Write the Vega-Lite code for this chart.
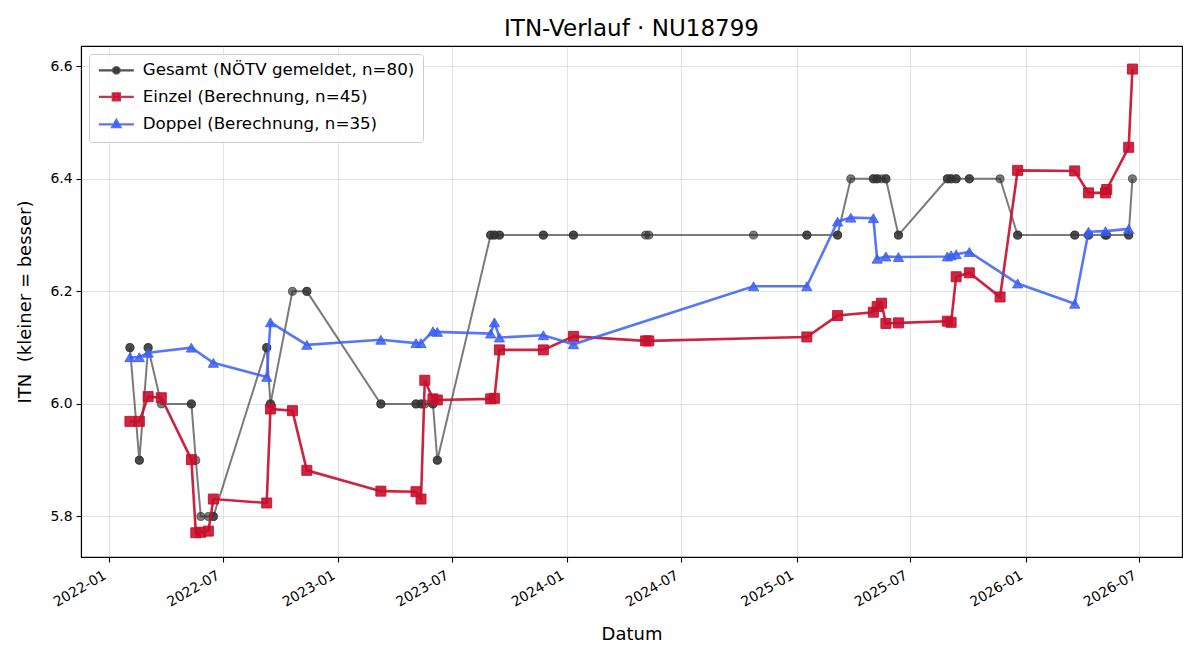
{
  "$schema": "https://vega.github.io/schema/vega-lite/v6.json",
  "width": 1101,
  "height": 511,
  "autosize": {"type": "none"},
  "padding": {"left": 81, "top": 46, "right": 18, "bottom": 103},
  "background": "white",
  "title": {
    "text": "ITN-Verlauf · NU18799",
    "font": "DejaVu Sans",
    "fontSize": 23,
    "fontWeight": "normal",
    "color": "black",
    "anchor": "middle",
    "baseline": "alphabetic",
    "offset": -13
  },
  "config": {
    "font": "DejaVu Sans",
    "view": {"stroke": "black", "strokeWidth": 1.1},
    "axis": {
      "domainColor": "black",
      "domainWidth": 1.1,
      "tickColor": "black",
      "tickWidth": 1.1,
      "tickSize": 5,
      "labelColor": "black",
      "labelFont": "DejaVu Sans",
      "labelFontSize": 13.9,
      "labelPadding": 4,
      "titleFont": "DejaVu Sans",
      "titleFontSize": 18,
      "titleFontWeight": "normal",
      "titleColor": "black",
      "gridColor": "#b0b0b0",
      "gridOpacity": 0.35,
      "gridWidth": 1.1
    }
  },
  "data": {
    "values": [
      {"d": "2022-02-03", "t": "E", "v": 5.969, "g": 6.1},
      {"d": "2022-02-03", "t": "D", "v": 6.083, "g": 6.1},
      {"d": "2022-02-18", "t": "E", "v": 5.969, "g": 5.9},
      {"d": "2022-02-18", "t": "D", "v": 6.083, "g": 5.9},
      {"d": "2022-03-04", "t": "E", "v": 6.013, "g": 6.1},
      {"d": "2022-03-04", "t": "D", "v": 6.091, "g": 6.1},
      {"d": "2022-03-25", "t": "E", "v": 6.011, "g": 6.0},
      {"d": "2022-05-12", "t": "E", "v": 5.901, "g": 6.0},
      {"d": "2022-05-12", "t": "D", "v": 6.100, "g": 6.0},
      {"d": "2022-05-19", "t": "E", "v": 5.771, "g": 5.9},
      {"d": "2022-05-27", "t": "E", "v": 5.772, "g": 5.8},
      {"d": "2022-06-08", "t": "E", "v": 5.774, "g": 5.8},
      {"d": "2022-06-16", "t": "E", "v": 5.831, "g": 5.8},
      {"d": "2022-06-16", "t": "D", "v": 6.073, "g": 5.8},
      {"d": "2022-09-09", "t": "E", "v": 5.824, "g": 6.1},
      {"d": "2022-09-09", "t": "D", "v": 6.048, "g": 6.1},
      {"d": "2022-09-15", "t": "E", "v": 5.991, "g": 6.0},
      {"d": "2022-09-15", "t": "D", "v": 6.145, "g": 6.0},
      {"d": "2022-10-20", "t": "E", "v": 5.988, "g": 6.2},
      {"d": "2022-11-12", "t": "E", "v": 5.882, "g": 6.2},
      {"d": "2022-11-12", "t": "D", "v": 6.105, "g": 6.2},
      {"d": "2023-03-10", "t": "E", "v": 5.845, "g": 6.0},
      {"d": "2023-03-10", "t": "D", "v": 6.114, "g": 6.0},
      {"d": "2023-05-05", "t": "E", "v": 5.844, "g": 6.0},
      {"d": "2023-05-05", "t": "D", "v": 6.108, "g": 6.0},
      {"d": "2023-05-13", "t": "E", "v": 5.831, "g": 6.0},
      {"d": "2023-05-13", "t": "D", "v": 6.108, "g": 6.0},
      {"d": "2023-05-19", "t": "E", "v": 6.042, "g": 6.0},
      {"d": "2023-06-01", "t": "E", "v": 6.009, "g": 6.0},
      {"d": "2023-06-01", "t": "D", "v": 6.129, "g": 6.0},
      {"d": "2023-06-08", "t": "E", "v": 6.007, "g": 5.9},
      {"d": "2023-06-08", "t": "D", "v": 6.128, "g": 5.9},
      {"d": "2023-09-01", "t": "E", "v": 6.009, "g": 6.3},
      {"d": "2023-09-01", "t": "D", "v": 6.125, "g": 6.3},
      {"d": "2023-09-07", "t": "E", "v": 6.010, "g": 6.3},
      {"d": "2023-09-07", "t": "D", "v": 6.145, "g": 6.3},
      {"d": "2023-09-15", "t": "E", "v": 6.096, "g": 6.3},
      {"d": "2023-09-15", "t": "D", "v": 6.118, "g": 6.3},
      {"d": "2023-11-24", "t": "E", "v": 6.096, "g": 6.3},
      {"d": "2023-11-24", "t": "D", "v": 6.122, "g": 6.3},
      {"d": "2024-01-11", "t": "E", "v": 6.120, "g": 6.3},
      {"d": "2024-01-11", "t": "D", "v": 6.106, "g": 6.3},
      {"d": "2024-05-05", "t": "E", "v": 6.112, "g": 6.3},
      {"d": "2024-05-10", "t": "E", "v": 6.112, "g": 6.3},
      {"d": "2024-10-24", "t": "D", "v": 6.209, "g": 6.3},
      {"d": "2025-01-17", "t": "E", "v": 6.119, "g": 6.3},
      {"d": "2025-01-17", "t": "D", "v": 6.209, "g": 6.3},
      {"d": "2025-03-07", "t": "E", "v": 6.157, "g": 6.3},
      {"d": "2025-03-07", "t": "D", "v": 6.324, "g": 6.3},
      {"d": "2025-03-28", "t": "D", "v": 6.331, "g": 6.4},
      {"d": "2025-05-03", "t": "E", "v": 6.163, "g": 6.4},
      {"d": "2025-05-03", "t": "D", "v": 6.330, "g": 6.4},
      {"d": "2025-05-09", "t": "E", "v": 6.173, "g": 6.4},
      {"d": "2025-05-09", "t": "D", "v": 6.258, "g": 6.4},
      {"d": "2025-05-16", "t": "E", "v": 6.179, "g": 6.4},
      {"d": "2025-05-23", "t": "E", "v": 6.143, "g": 6.4},
      {"d": "2025-05-23", "t": "D", "v": 6.262, "g": 6.4},
      {"d": "2025-06-12", "t": "E", "v": 6.144, "g": 6.3},
      {"d": "2025-06-12", "t": "D", "v": 6.261, "g": 6.3},
      {"d": "2025-08-29", "t": "E", "v": 6.147, "g": 6.4},
      {"d": "2025-08-29", "t": "D", "v": 6.262, "g": 6.4},
      {"d": "2025-09-04", "t": "E", "v": 6.145, "g": 6.4},
      {"d": "2025-09-04", "t": "D", "v": 6.264, "g": 6.4},
      {"d": "2025-09-12", "t": "E", "v": 6.226, "g": 6.4},
      {"d": "2025-09-12", "t": "D", "v": 6.266, "g": 6.4},
      {"d": "2025-10-03", "t": "E", "v": 6.233, "g": 6.4},
      {"d": "2025-10-03", "t": "D", "v": 6.270, "g": 6.4},
      {"d": "2025-11-21", "t": "E", "v": 6.190, "g": 6.4},
      {"d": "2025-12-19", "t": "E", "v": 6.415, "g": 6.3},
      {"d": "2025-12-19", "t": "D", "v": 6.214, "g": 6.3},
      {"d": "2026-03-20", "t": "E", "v": 6.414, "g": 6.3},
      {"d": "2026-03-20", "t": "D", "v": 6.178, "g": 6.3},
      {"d": "2026-04-11", "t": "E", "v": 6.375, "g": 6.3},
      {"d": "2026-04-11", "t": "D", "v": 6.306, "g": 6.3},
      {"d": "2026-05-08", "t": "E", "v": 6.375, "g": 6.3},
      {"d": "2026-05-08", "t": "D", "v": 6.307, "g": 6.3},
      {"d": "2026-05-10", "t": "E", "v": 6.381, "g": 6.3},
      {"d": "2026-06-14", "t": "E", "v": 6.456, "g": 6.3},
      {"d": "2026-06-14", "t": "D", "v": 6.311, "g": 6.3},
      {"d": "2026-06-20", "t": "E", "v": 6.595, "g": 6.4}
    ]
  },
  "encoding": {
    "x": {
      "field": "d",
      "type": "temporal",
      "title": "Datum",
      "scale": {
        "type": "utc",
        "nice": false,
        "domain": [
          {"year": 2021, "month": 11, "date": 17, "utc": true},
          {"year": 2026, "month": 9, "date": 7, "utc": true}
        ]
      },
      "axis": {
        "values": [
          {"year": 2022, "month": 1, "date": 1, "utc": true},
          {"year": 2022, "month": 7, "date": 1, "utc": true},
          {"year": 2023, "month": 1, "date": 1, "utc": true},
          {"year": 2023, "month": 7, "date": 1, "utc": true},
          {"year": 2024, "month": 1, "date": 1, "utc": true},
          {"year": 2024, "month": 7, "date": 1, "utc": true},
          {"year": 2025, "month": 1, "date": 1, "utc": true},
          {"year": 2025, "month": 7, "date": 1, "utc": true},
          {"year": 2026, "month": 1, "date": 1, "utc": true},
          {"year": 2026, "month": 7, "date": 1, "utc": true}
        ],
        "labelExpr": "utcFormat(datum.value, '%Y-%m')",
        "labelAngle": -30,
        "labelAlign": "right",
        "labelBaseline": "top",
        "labelOffset": -8,
        "labelPadding": 6,
        "titlePadding": 16
      }
    }
  },
  "layer": [
    {
      "mark": {"type": "line", "strokeWidth": 2, "opacity": 0.65},
      "encoding": {
        "y": {
          "field": "g",
          "type": "quantitative",
          "title": "ITN \u00a0(kleiner = besser)",
          "scale": {"domain": [5.728, 6.636], "nice": false, "zero": false},
          "axis": {"values": [5.8, 6.0, 6.2, 6.4, 6.6], "format": ".1f", "titlePadding": 15}
        },
        "color": {
          "datum": "Gesamt (NÖTV gemeldet, n=80)",
          "type": "nominal",
          "scale": {
            "domain": ["Gesamt (NÖTV gemeldet, n=80)", "Einzel (Berechnung, n=45)", "Doppel (Berechnung, n=35)"],
            "range": ["#333333", "#c8102e", "#3b5ff5"]
          },
          "legend": {
            "title": null,
            "orient": "top-left",
            "offset": 8,
            "padding": 8,
            "fillColor": "rgba(255,255,255,0.8)",
            "strokeColor": "#cccccc",
            "cornerRadius": 3,
            "labelFont": "DejaVu Sans",
            "labelFontSize": 16.7,
            "labelColor": "black",
            "labelLimit": 600,
            "labelOffset": 29,
            "rowPadding": 8.5,
            "symbolSize": 100,
            "symbolStrokeWidth": 2.5,
            "symbolOpacity": 1,
            "encoding": {
              "symbols": {
                "shape": {"value": {"expr": "indexof(datum.value, 'Gesamt') === 0 ? 'M-1.3,0H5.7M2.8,0.25L2.45,0.6L1.95,0.6L1.6,0.25L1.6,-0.25L1.95,-0.6L2.45,-0.6L2.8,-0.25Z' : indexof(datum.value, 'Einzel') === 0 ? 'M-1.3,0H5.7M1.5,-0.7H2.9V0.7H1.5Z' : 'M-1.3,0H5.7M2.2,-0.85L3.0,0.55H1.4Z'"}},
                "strokeWidth": {"value": 2.4},
                "fillOpacity": {"value": 0.85},
                "strokeOpacity": {"value": 0.85}
              }
            }
          }
        }
      }
    },
    {
      "mark": {"type": "point", "filled": true, "shape": "circle", "size": 65, "opacity": 1, "stroke": "#333333", "strokeWidth": 1, "fillOpacity": 0.65, "strokeOpacity": 0.65},
      "encoding": {
        "y": {"field": "g", "type": "quantitative", "title": "ITN \u00a0(kleiner = besser)"},
        "color": {"datum": "Gesamt (NÖTV gemeldet, n=80)", "type": "nominal"}
      }
    },
    {
      "transform": [{"filter": "datum.t === 'E'"}],
      "mark": {"type": "line", "strokeWidth": 2.6, "opacity": 0.92},
      "encoding": {
        "y": {"field": "v", "type": "quantitative", "title": "ITN \u00a0(kleiner = besser)"},
        "color": {"datum": "Einzel (Berechnung, n=45)", "type": "nominal"}
      }
    },
    {
      "transform": [{"filter": "datum.t === 'E'"}],
      "mark": {"type": "point", "filled": true, "shape": "square", "size": 100, "opacity": 1, "stroke": "#c8102e", "strokeWidth": 1, "fillOpacity": 0.9, "strokeOpacity": 0.9},
      "encoding": {
        "y": {"field": "v", "type": "quantitative", "title": "ITN \u00a0(kleiner = besser)"},
        "color": {"datum": "Einzel (Berechnung, n=45)", "type": "nominal"}
      }
    },
    {
      "transform": [{"filter": "datum.t === 'D'"}],
      "mark": {"type": "line", "strokeWidth": 2.6, "opacity": 0.85},
      "encoding": {
        "y": {"field": "v", "type": "quantitative", "title": "ITN \u00a0(kleiner = besser)"},
        "color": {"datum": "Doppel (Berechnung, n=35)", "type": "nominal"}
      }
    },
    {
      "transform": [{"filter": "datum.t === 'D'"}],
      "mark": {"type": "point", "filled": true, "shape": "triangle-up", "size": 105, "opacity": 1, "stroke": "#3b5ff5", "strokeWidth": 1, "fillOpacity": 0.85, "strokeOpacity": 0.85},
      "encoding": {
        "y": {"field": "v", "type": "quantitative", "title": "ITN \u00a0(kleiner = besser)"},
        "color": {"datum": "Doppel (Berechnung, n=35)", "type": "nominal"}
      }
    }
  ]
}
